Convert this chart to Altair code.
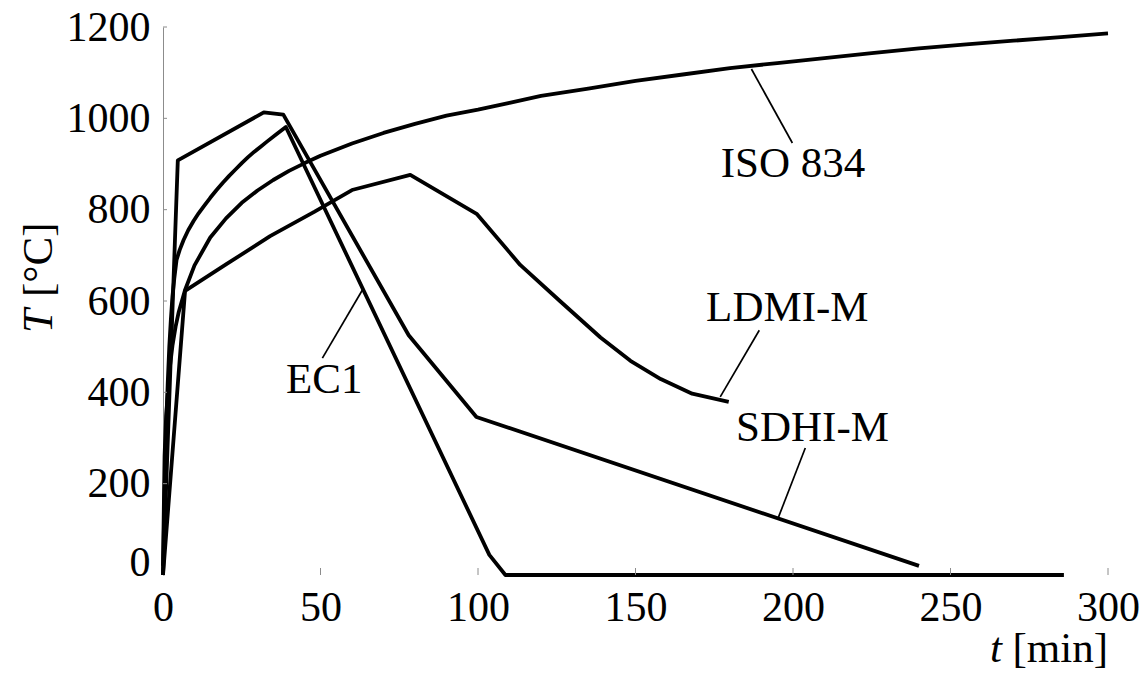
import altair as alt
import pandas as pd

# Temperature-time curves: t [min], T [degC]
iso_t = [0, 0.5, 1, 2, 3, 4, 5, 7, 10, 15, 20, 25, 30, 35, 40, 45, 50, 60, 70, 80, 90, 100,
         110, 120, 135, 150, 165, 180, 195, 210, 225, 240, 255, 270, 285, 300]
iso_T = [20, 261, 349, 445, 502, 544, 576, 624, 678, 739, 781, 815, 842, 865, 885, 902, 918,
         945, 968, 988, 1006, 1019, 1034, 1049, 1065, 1082, 1096, 1110, 1121, 1132, 1143, 1153,
         1162, 1170, 1178, 1186]

ec1_t = [0, 0.5, 1, 1.5, 2, 2.5, 3, 3.6, 4.3, 5.3, 6.5, 8, 9.7, 11.3, 13, 15, 17, 19, 21,
         23, 25, 27, 29, 31, 33, 36, 39, 103.6, 108.7, 286]
ec1_T = [0, 180, 320, 420, 500, 560, 610, 650, 690, 712, 733, 755, 775, 792, 808, 826, 843,
         859, 874, 888, 902, 915, 927, 938, 949, 965, 981, 44, 0, 0]

sdhi_t = [0, 4.7, 32, 38.2, 78, 99.5, 240]
sdhi_T = [0, 908, 1013, 1008, 525, 346, 20]

ldmi_t = [0, 7, 20, 34, 48, 60, 78.5, 99.7, 113.4, 126, 138.9, 148.4, 158, 168, 179.6]
ldmi_T = [0, 622, 680, 742, 795, 843, 876, 790, 679, 600, 520, 469, 429, 397, 379]

# Curve labels and their leader lines (data coordinates)
labels = ["ISO 834", "LDMI-M", "SDHI-M", "EC1"]
label_t = [200, 198.2, 206.2, 51.2]
label_T = [900, 585, 322, 427]
lead_t1 = [186.8, 189.3, 203.9, 50.6]
lead_T1 = [1108, 536, 278, 475]
lead_t2 = [199.8, 176.9, 195.3, 63.3]
lead_T2 = [946, 390, 125, 624]

x_ticks = [0, 50, 100, 150, 200, 250, 300]
y_ticks = [0, 200, 400, 600, 800, 1000, 1200]

W, H = 945, 548
FONT = "Liberation Serif"

rows = []
for name, ts, Ts in [("ISO 834", iso_t, iso_T), ("EC1", ec1_t, ec1_T),
                     ("SDHI-M", sdhi_t, sdhi_T), ("LDMI-M", ldmi_t, ldmi_T)]:
    for t, T in zip(ts, Ts):
        rows.append({"series": name, "t": t, "T": T})
curves = pd.DataFrame(rows)

notes = pd.DataFrame({"label": labels, "t": label_t, "T": label_T,
                      "t1": lead_t1, "T1": lead_T1, "t2": lead_t2, "T2": lead_T2})

x_scale = alt.Scale(domain=[0, 300], nice=False)
y_scale = alt.Scale(domain=[0, 1200], nice=False)

x_axis = alt.Axis(values=x_ticks, format="d", title=None, grid=False, domain=False,
                  ticks=False, labelFont=FONT, labelFontSize=42, labelColor="black",
                  labelPadding=12, labelFlush=False, labelOverlap=False)
y_axis = alt.Axis(values=y_ticks, format="d", title=None, grid=False, domain=True,
                  domainColor="#8c8c8c", domainWidth=1, ticks=False, labelFont=FONT,
                  labelFontSize=42, labelColor="black", labelPadding=13,
                  labelFlush=False, labelOverlap=False,
                  labelBaseline={"condition": {"test": "datum.value === 0", "value": "alphabetic"},
                                 "value": "middle"})

lines = alt.Chart(curves).mark_line(color="black", strokeWidth=3.8, strokeJoin="round").encode(
    x=alt.X("t:Q", scale=x_scale, axis=x_axis),
    y=alt.Y("T:Q", scale=y_scale, axis=y_axis),
    detail="series:N",
)

leaders = alt.Chart(notes).mark_rule(color="black", strokeWidth=1.7).encode(
    x=alt.X("t1:Q", scale=x_scale, axis=x_axis),
    y=alt.Y("T1:Q", scale=y_scale, axis=y_axis),
    x2="t2:Q",
    y2="T2:Q",
)

note_text = alt.Chart(notes).mark_text(font=FONT, fontSize=43, color="black",
                                        align="center", baseline="middle").encode(
    x=alt.X("t:Q", scale=x_scale, axis=x_axis),
    y=alt.Y("T:Q", scale=y_scale, axis=y_axis),
    text="label:N",
)

# small inward tick marks on both axes
ytick_df = pd.DataFrame({"v": y_ticks[1:]})
xtick_df = pd.DataFrame({"v": x_ticks[1:]})
ytick_marks = alt.Chart(ytick_df).mark_rule(color="#8c8c8c", strokeWidth=1).encode(
    y=alt.Y("v:Q", scale=y_scale, axis=y_axis),
    x=alt.value(0), x2=alt.value(4),
)
xtick_marks = alt.Chart(xtick_df).mark_rule(color="#8c8c8c", strokeWidth=1).encode(
    x=alt.X("v:Q", scale=x_scale, axis=x_axis),
    y=alt.value(H), y2=alt.value(H - 7),
)

# axis titles with italic symbols
one = pd.DataFrame({"k": [0]})
y_sym = alt.Chart(one).mark_text(text="T", font=FONT, fontStyle="italic", fontSize=43,
                                 angle=270, align="left", baseline="alphabetic",
                                 color="black").encode(x=alt.value(-111), y=alt.value(306))
y_unit = alt.Chart(one).mark_text(text="[°C]", font=FONT, fontSize=43, angle=270,
                                  align="left", baseline="alphabetic",
                                  color="black").encode(x=alt.value(-111), y=alt.value(270))
x_sym = alt.Chart(one).mark_text(text="t", font=FONT, fontStyle="italic", fontSize=43,
                                 align="left", baseline="alphabetic",
                                 color="black").encode(x=alt.value(827), y=alt.value(635))
x_unit = alt.Chart(one).mark_text(text="[min]", font=FONT, fontSize=43,
                                  align="right", baseline="alphabetic",
                                  color="black").encode(x=alt.value(945), y=alt.value(635))

chart = alt.layer(
    lines, leaders, note_text, ytick_marks, xtick_marks, y_sym, y_unit, x_sym, x_unit
).properties(
    width=W, height=H,
    padding={"left": 163, "top": 27, "right": 38, "bottom": 99},
    autosize=alt.AutoSizeParams(type="none"),
    background="white",
).configure_view(stroke=None)

chart.save("out.html", embed_options={"renderer": "svg", "actions": False})
